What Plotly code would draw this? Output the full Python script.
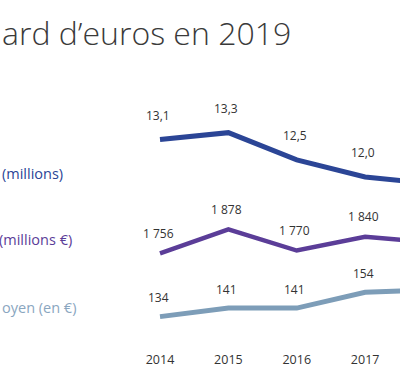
import plotly.graph_objects as go

years = [2014, 2015, 2016, 2017, 2018]
year_labels = ["2014", "2015", "2016", "2017"]

foyers = [13.1, 13.3, 12.5, 12.0, 11.8]
foyers_text = ["13,1", "13,3", "12,5", "12,0"]

montant = [1756, 1878, 1770, 1840, 1810]
montant_text = ["1 756", "1 878", "1 770", "1 840"]

don_moyen = [134, 141, 141, 154, 156]
don_text = ["134", "141", "141", "154"]

title_text = "ard d’euros en 2019"
series_labels = ["(millions)", "(millions €)", "oyen (en €)"]

C_BLUE = "#2b4596"
C_PURPLE = "#5b3d98"
C_LIGHT = "#7d9db8"
TXT = "#333333"
FONT = "Open Sans"

fig = go.Figure()
fig.add_trace(go.Scatter(x=years, y=foyers, mode="lines", yaxis="y",
                         line=dict(color=C_BLUE, width=5), hoverinfo="skip"))
fig.add_trace(go.Scatter(x=years, y=montant, mode="lines", yaxis="y2",
                         line=dict(color=C_PURPLE, width=4.5), hoverinfo="skip"))
fig.add_trace(go.Scatter(x=years, y=don_moyen, mode="lines", yaxis="y3",
                         line=dict(color=C_LIGHT, width=5), hoverinfo="skip"))

annotations = []
for yr, v, t in zip(years, foyers, foyers_text):
    annotations.append(dict(x=yr, y=v, xref="x", yref="y", text=t, showarrow=False,
                            xanchor="center", yanchor="middle", yshift=24, xshift=-2,
                            font=dict(family=FONT, size=12, color=TXT)))
for yr, v, t in zip(years, montant, montant_text):
    annotations.append(dict(x=yr, y=v, xref="x", yref="y2", text=t, showarrow=False,
                            xanchor="center", yanchor="middle", yshift=20, xshift=-2,
                            font=dict(family=FONT, size=12, color=TXT)))
for yr, v, t in zip(years, don_moyen, don_text):
    annotations.append(dict(x=yr, y=v, xref="x", yref="y3", text=t, showarrow=False,
                            xanchor="center", yanchor="middle", yshift=19, xshift=-2,
                            font=dict(family=FONT, size=12, color=TXT)))

# title (cropped in the reference)
annotations.append(dict(x=0, y=1, xref="paper", yref="paper", text=title_text,
                        showarrow=False, xanchor="left", yanchor="middle", yshift=-32,
                        font=dict(family=FONT, size=32, color="#3a3a3a", weight=300)))

# series labels (cropped on the left in the reference)
for lab, col, ypx, xs in zip(series_labels, [C_BLUE, C_PURPLE, "#8aa6bf"],
                             [173, 239, 307], [0, -3, 0]):
    annotations.append(dict(x=0, y=1, xref="paper", yref="paper", text=lab,
                            showarrow=False, xanchor="left", yanchor="middle",
                            yshift=-ypx, xshift=xs,
                            font=dict(family=FONT, size=14.5, color=col)))

fig.update_layout(
    width=400, height=377,
    margin=dict(l=0, r=0, t=0, b=27),
    paper_bgcolor="white", plot_bgcolor="white",
    showlegend=False,
    xaxis=dict(range=[2011.66, 2017.51], tickvals=years[:4], ticktext=year_labels,
               showgrid=False, zeroline=False, showline=False, ticks="",
               tickfont=dict(family=FONT, size=12.5, color=TXT), fixedrange=True),
    yaxis=dict(range=[6.926, 17.19], visible=False, fixedrange=True),
    yaxis2=dict(range=[1265, 3042], overlaying="y", visible=False, fixedrange=True),
    yaxis3=dict(range=[106.7, 393.1], overlaying="y", visible=False, fixedrange=True),
    annotations=annotations,
)

fig.write_html("out.html", config={"displayModeBar": False},
               post_script="document.body.style.margin='0px';")
